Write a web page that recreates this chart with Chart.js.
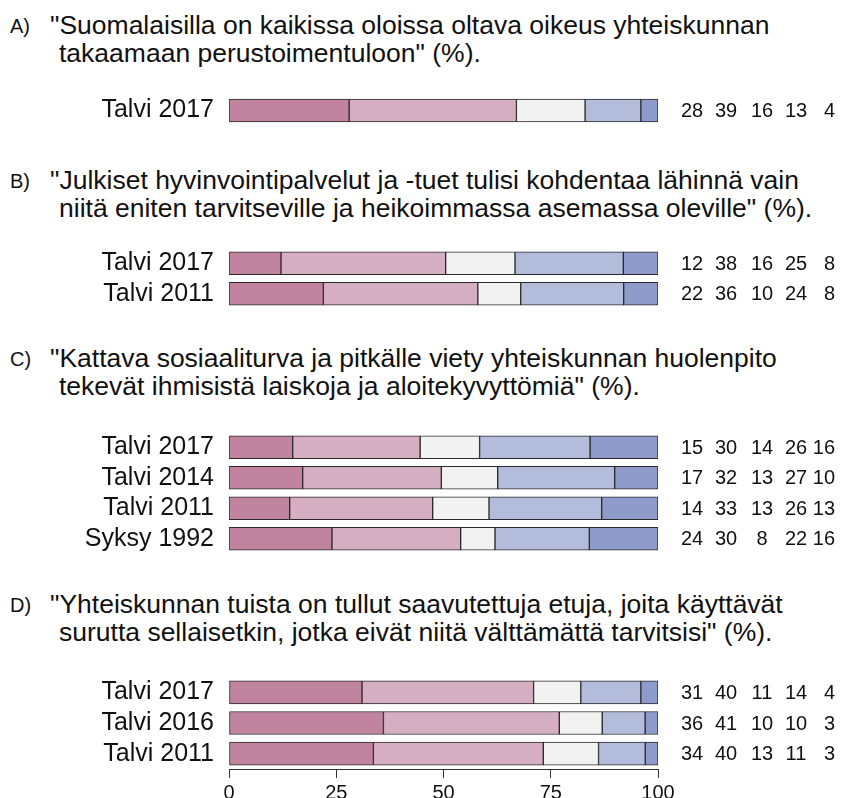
<!DOCTYPE html>
<html>
<head>
<meta charset="utf-8">
<script src="https://cdn.jsdelivr.net/npm/chart.js@4"></script>
<style>
  body { margin: 0; background: #fff; }
  #page { position: relative; width: 842px; height: 798px; overflow: hidden; font-family: 'Liberation Sans', Arial, sans-serif; color: #111; }
  canvas { position: absolute; left: 0; }
  .q { position: absolute; left: 0; width: 842px; line-height: 28px; }
  .q .let { position: absolute; left: 10px; top: 1px; font-size: 20px; }
  .q .txt { position: absolute; left: 50px; font-size: 26.5px; white-space: nowrap; }
  .q .txt span { display: block; }
  .q .txt span.l2 { padding-left: 9px; }
</style>
</head>
<body>
<div id="page">
  <div class="q" style="top:11px"><div class="let">A)</div><div class="txt"><span>"Suomalaisilla on kaikissa oloissa oltava oikeus yhteiskunnan</span><span class="l2">takaamaan perustoimentuloon" (%).</span></div></div>
  <div class="q" style="top:166px"><div class="let">B)</div><div class="txt"><span>"Julkiset hyvinvointipalvelut ja -tuet tulisi kohdentaa lähinnä vain</span><span class="l2">niitä eniten tarvitseville ja heikoimmassa asemassa oleville" (%).</span></div></div>
  <div class="q" style="top:344px"><div class="let">C)</div><div class="txt"><span>"Kattava sosiaaliturva ja pitkälle viety yhteiskunnan huolenpito</span><span class="l2">tekevät ihmisistä laiskoja ja aloitekyvyttömiä" (%).</span></div></div>
  <div class="q" style="top:590px"><div class="let">D)</div><div class="txt"><span>"Yhteiskunnan tuista on tullut saavutettuja etuja, joita käyttävät</span><span class="l2">surutta sellaisetkin, jotka eivät niitä välttämättä tarvitsisi" (%).</span></div></div>

  <canvas id="chartA" width="842" height="101" style="top:60px"></canvas>
  <canvas id="chartB" width="842" height="131" style="top:213px"></canvas>
  <canvas id="chartC" width="842" height="192" style="top:397px"></canvas>
  <canvas id="chartD" width="842" height="161" style="top:642px"></canvas>
</div>
<script>
// categories and values (%), columns: täysin samaa .. täysin eri mieltä
const catsA = ['Talvi 2017'];
const rowsA = [[28, 39, 16, 13, 4]];

const catsB = ['Talvi 2017', 'Talvi 2011'];
const rowsB = [[12, 38, 16, 25, 8], [22, 36, 10, 24, 8]];

const catsC = ['Talvi 2017', 'Talvi 2014', 'Talvi 2011', 'Syksy 1992'];
const rowsC = [[15, 30, 14, 26, 16], [17, 32, 13, 27, 10], [14, 33, 13, 26, 13], [24, 30, 8, 22, 16]];

const catsD = ['Talvi 2017', 'Talvi 2016', 'Talvi 2011'];
const rowsD = [[31, 40, 11, 14, 4], [36, 41, 10, 10, 3], [34, 40, 13, 11, 3]];

const xTicks = [0, 25, 50, 75, 100];

const colors = ['#C0849F', '#D6AEC1', '#F2F2F2', '#B4BCDC', '#8F9BCA'];
const FONT = "'Liberation Sans', Arial, sans-serif";

// x positions for the number columns on the right
const numCols = [692, 726, 762, 796, 835];

const numbersPlugin = {
    id: 'numbers',
    afterDatasetsDraw(chart) {
        const ctx = chart.ctx;
        const y = chart.scales.y;
        ctx.save();
        ctx.font = '20px ' + FONT;
        ctx.fillStyle = '#111';
        ctx.textBaseline = 'middle';
        chart.data.datasets.forEach(function (ds, k) {
            ctx.textAlign = k == 4 ? 'right' : 'center';
            ds.raw.forEach(function (v, j) {
                ctx.fillText(String(v), numCols[k], y.getPixelForValue(j) + 1);
            });
        });
        ctx.restore();
    }
};

function makePanel(id, cats, rows, showAxis) {
    var datasets = [];
    for (var k = 0; k < 5; k++) {
        datasets.push({
            // bars are drawn as shares of the row total, so every bar ends at 100
            data: rows.map(function (r) {
                var s = r.reduce(function (a, b) { return a + b; }, 0);
                return r[k] / s * 100;
            }),
            raw: rows.map(function (r) { return r[k]; }),
            backgroundColor: colors[k],
            borderColor: '#2a2a2a',
            borderWidth: 1,
            borderSkipped: false,
            barThickness: 23
        });
    }
    var xScale = {
        stacked: true,
        min: 0,
        max: 100,
        display: showAxis,
        afterBuildTicks: function (s) { s.ticks = xTicks.map(function (v) { return { value: v }; }); },
        grid: { drawOnChartArea: false, drawTicks: true, tickLength: 9, tickColor: '#333' },
        border: { display: true, color: '#333', width: 1 },
        ticks: { color: '#111', font: { size: 20, family: FONT }, padding: 3, maxRotation: 0 }
    };
    if (showAxis) {
        xScale.afterFit = function (s) { s.height = 34; };
    }
    return new Chart(document.getElementById(id), {
        type: 'bar',
        data: { labels: cats, datasets: datasets },
        options: {
            indexAxis: 'y',
            responsive: false,
            animation: false,
            layout: { padding: { left: 0, right: 184, top: 35, bottom: showAxis ? 0 : 35 } },
            plugins: { legend: { display: false }, tooltip: { enabled: false } },
            scales: {
                x: xScale,
                y: {
                    stacked: true,
                    afterFit: function (s) { s.width = 229; },
                    grid: { display: false, drawTicks: false },
                    border: { display: false },
                    ticks: { color: '#111', font: { size: 25, family: FONT }, padding: 15, autoSkip: false }
                }
            }
        },
        plugins: [numbersPlugin]
    });
}

makePanel('chartA', catsA, rowsA, false);
makePanel('chartB', catsB, rowsB, false);
makePanel('chartC', catsC, rowsC, false);
makePanel('chartD', catsD, rowsD, true);
</script>
</body>
</html>
